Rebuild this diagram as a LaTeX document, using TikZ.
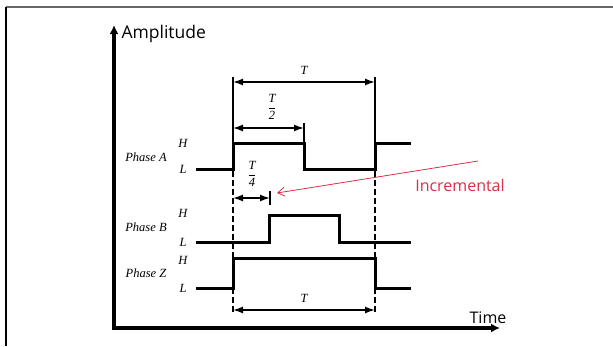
\documentclass[tikz,border=0pt]{standalone}
\usepackage{amsmath}
\usepackage{fontspec}
\setmainfont{Liberation Serif}
\newfontfamily\uifont{Open Sans}
\usetikzlibrary{positioning,arrows.meta}
\definecolor{incred}{RGB}{222,45,70}
\newcommand{\frc}[1]{$\dfrac{\textit{T}}{\textrm{#1}}$}

\begin{document}
\begin{tikzpicture}[x=1pt,y=-1pt,
  wave/.style={line width=3pt},
  dim/.style={line width=1.5pt,{Latex[length=10pt,width=7pt]}-{Latex[length=10pt,width=7pt]}},
  guide/.style={line width=1.2pt,dash pattern=on 6pt off 3pt},
  ext/.style={line width=1.2pt},
  lbl/.style={font=\itshape\fontsize{12.5}{14}\selectfont},
  ui/.style={font=\uifont\fontsize{16}{18}\selectfont}]
\useasboundingbox (0,0) rectangle (613,346);
% frame
\draw[gray!80!black,line width=2pt] (6,7) -- (613,7);
\draw[line width=1.5pt] (6,7) -- (6,346);
% axes
\coordinate (origin) at (114,328);
\coordinate (ytop) at (114,25);
\coordinate (xend) at (500,328);
\draw[line width=3.2pt,{Latex[length=9pt,width=9pt]}-{Latex[length=9pt,width=9pt]}] (ytop) -- (origin) -- (xend);
\node[ui,font=\uifont\fontsize{17.5}{19}\selectfont,anchor=west] (amp) at (118,34) {Amplitude};
\node[ui] (time) at (488,318) {Time};
% phase labels
\node[lbl] (pa) at (146,157) {Phase A};
\node[lbl] (pb) at (146,227) {Phase B};
\node[lbl] (pz) at (146,273) {Phase Z};
\foreach \h/\l in {143/169,213/242,260/288}{
  \node[lbl] at (183,\h) {H};
  \node[lbl] at (183,\l) {L};
}
% waveforms
\draw[wave] (196,169) -- (233,169) -- (233,143) -- (304,143) -- (304,169) -- (375,169) -- (375,143) -- (411,143);
\draw[wave] (196,242) -- (269,242) -- (269,215) -- (339,215) -- (339,242) -- (411,242);
\draw[wave] (196,288) -- (233,288) -- (233,258) -- (375,258) -- (375,288) -- (411,288);
% guides
\draw[ext] (233,143) -- (233,77);
\draw[ext] (375,143) -- (375,77);
\draw[ext] (304,143) -- (304,123);
\draw[ext] (270,191) -- (270,205);
\draw[guide] (233,171) -- (233,314);
\draw[guide] (375,171) -- (375,314);
% dimensions
\draw[dim] (233,82) -- (375,82) node[midway,above=3pt,lbl] (tfull) {T};
\draw[dim] (233,128) -- (304,128);
\node[lbl] (thalf) at (272,107) {\frc{2}};
\draw[dim] (233,198) -- (270,198);
\node[lbl] (tquart) at (252,174) {\frc{4}};
\draw[dim] (233,310) -- (375,310) node[midway,above=3pt,lbl] (tbot) {T};
% incremental note
\node[ui,text=incred] (inc) at (460,185) {Incremental};
\coordinate (incstart) at (478,161);
\coordinate (inctip) at (277,193);
\draw[incred,line width=0.8pt,-{Straight Barb[length=7pt,width=9pt]}] (incstart) -- (inctip);
\end{tikzpicture}
\end{document}
